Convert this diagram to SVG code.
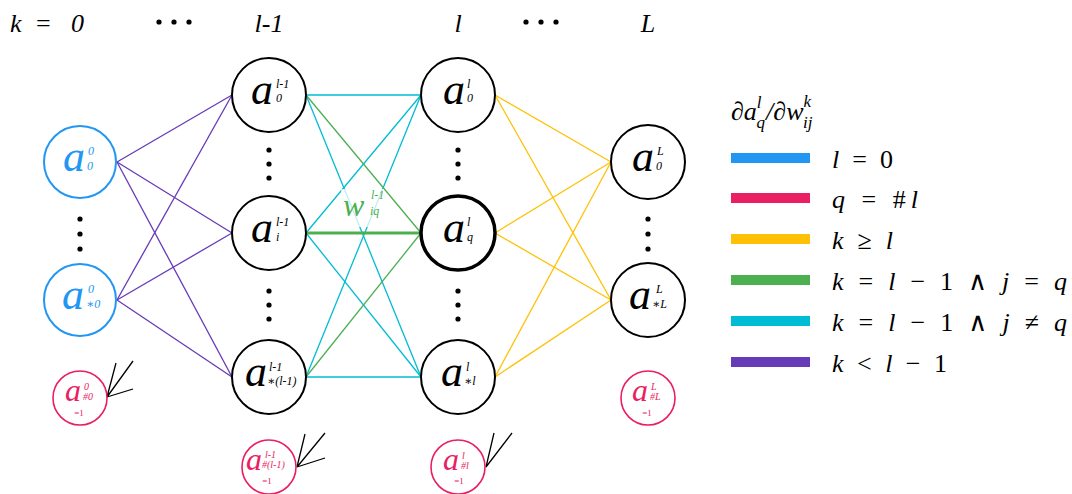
<svg xmlns="http://www.w3.org/2000/svg" width="1072" height="494" viewBox="0 0 1072 494" font-family="'Liberation Serif', Tinos, 'Times New Roman', 'DejaVu Serif', 'Noto Serif', serif">
<style>
text{font-family:"Liberation Serif",Tinos,"Times New Roman","DejaVu Serif","Noto Serif",serif;}
.it{font-style:italic;}
.big{font-size:44px;font-style:italic;}
.sm{font-size:12px;font-style:italic;}
.bb{font-size:32px;font-style:italic;fill:#E91E63;}
.bs{font-size:10px;font-style:italic;fill:#E91E63;}
.be{font-size:9px;fill:#E91E63;}
.node{fill:#fff;stroke:#000;stroke-width:2;}
.inp{fill:#fff;stroke:#2196F3;stroke-width:2;}
.bias{fill:#fff;stroke:#E91E63;stroke-width:1.6;}
.blue{fill:#2196F3;}
.pu{stroke:#673AB7;stroke-width:1.3;fill:none;}
.cy{stroke:#00BCD4;stroke-width:1.3;fill:none;}
.gr{stroke:#4CAF50;stroke-width:1.3;fill:none;}
.ye{stroke:#FFC107;stroke-width:1.3;fill:none;}
.ar{stroke:#000;stroke-width:1.3;fill:none;}
.hdr{font-size:26px;}
.lg{font-size:26px;}
.ls{font-size:17px;font-style:italic;}
</style>
<rect width="1072" height="494" fill="#fff"/>

<g id="headers">
<text class="hdr" y="32"><tspan class="it" x="10">k</tspan><tspan x="36">=</tspan><tspan class="it" x="71">0</tspan></text>
<circle cx="159" cy="22" r="2.6"/><circle cx="174" cy="22" r="2.6"/><circle cx="189" cy="22" r="2.6"/>
<text class="hdr it" x="269" y="32" text-anchor="middle">l-1</text>
<text class="hdr it" x="458" y="32" text-anchor="middle">l</text>
<circle cx="526" cy="22" r="2.6"/><circle cx="541" cy="22" r="2.6"/><circle cx="556" cy="22" r="2.6"/>
<text class="hdr it" x="648" y="32" text-anchor="middle">L</text>
</g>

<g id="connectors">
<line class="pu" x1="117" y1="162" x2="232" y2="95"/>
<line class="pu" x1="117" y1="162" x2="232" y2="233"/>
<line class="pu" x1="117" y1="162" x2="232" y2="377"/>
<line class="pu" x1="117" y1="300" x2="232" y2="95"/>
<line class="pu" x1="117" y1="300" x2="232" y2="233"/>
<line class="pu" x1="117" y1="300" x2="232" y2="377"/>
<line class="cy" x1="306" y1="95" x2="421" y2="95"/>
<line class="cy" x1="306" y1="95" x2="421" y2="377"/>
<line class="cy" x1="306" y1="233" x2="421" y2="95"/>
<line class="cy" x1="306" y1="233" x2="421" y2="377"/>
<line class="cy" x1="306" y1="377" x2="421" y2="95"/>
<line class="cy" x1="306" y1="377" x2="421" y2="377"/>
<line class="gr" x1="306" y1="95" x2="421" y2="233"/>
<line class="gr" x1="306" y1="377" x2="421" y2="233"/>
<line class="gr" x1="306" y1="233" x2="421" y2="233" style="stroke-width:3"/>
<line class="ye" x1="495" y1="95" x2="611" y2="162"/>
<line class="ye" x1="495" y1="95" x2="611" y2="300"/>
<line class="ye" x1="495" y1="233" x2="611" y2="162"/>
<line class="ye" x1="495" y1="233" x2="611" y2="300"/>
<line class="ye" x1="495" y1="377" x2="611" y2="162"/>
<line class="ye" x1="495" y1="377" x2="611" y2="300"/>
<path class="ar" d="M116,363 L107,397 L133,361 M107,397 L133,389"/>
<path class="ar" d="M305,434 L297,467 L325,433 M297,467 L325,458"/>
<path class="ar" d="M494,433 L486,467 L512,433"/>
</g>

<g id="weight-label">
<rect x="341" y="189" width="43" height="38" fill="#fff" fill-opacity="0.75"/>
<text class="it" x="343" y="216" style="font-size:32px;fill:#4CAF50">w</text>
<text class="sm" x="371" y="199" style="fill:#4CAF50">l-1</text>
<text class="sm" x="370" y="215" style="fill:#4CAF50">iq</text>
</g>

<g id="n0_0"><circle class="inp" cx="80" cy="162" r="36"/>
<text class="big blue" x="63" y="171">a</text><text class="sm blue" x="88" y="155">0</text><text class="sm blue" x="87" y="170">0</text></g>
<g id="n0_dots"><circle cx="80" cy="219" r="2.6"/><circle cx="80" cy="234" r="2.6"/><circle cx="80" cy="249" r="2.6"/></g>
<g id="n0_s"><circle class="inp" cx="80" cy="300" r="36"/>
<text class="big blue" x="62" y="309">a</text><text class="sm blue" x="88" y="293">0</text><text class="sm blue" x="86" y="308">∗0</text></g>
<g id="b0"><circle class="bias" cx="80" cy="398" r="27"/>
<text class="bb" x="65" y="401">a</text><text class="bs" x="84" y="390">0</text><text class="bs" x="83" y="400">#0</text><text class="be" x="79" y="416" text-anchor="middle">=1</text></g>

<g id="nl1_0"><circle class="node" cx="269" cy="95" r="37"/>
<text class="big" x="251" y="104">a</text><text class="sm" x="276" y="88">l-1</text><text class="sm" x="276" y="102">0</text></g>
<g id="nl1_dots1"><circle cx="269" cy="150" r="2.6"/><circle cx="269" cy="164" r="2.6"/><circle cx="269" cy="178" r="2.6"/></g>
<g id="nl1_i"><circle class="node" cx="269" cy="233" r="37"/>
<text class="big" x="251" y="242">a</text><text class="sm" x="276" y="226">l-1</text><text class="sm" x="276" y="241">i</text></g>
<g id="nl1_dots2"><circle cx="269" cy="291" r="2.6"/><circle cx="269" cy="305" r="2.6"/><circle cx="269" cy="319" r="2.6"/></g>
<g id="nl1_s"><circle class="node" cx="269" cy="377" r="37"/>
<text class="big" x="245" y="386">a</text><text class="sm" x="269" y="371">l-1</text><text class="sm" x="267" y="385">∗(l-1)</text></g>
<g id="bl1"><circle class="bias" cx="269" cy="467" r="27"/>
<text class="bb" x="246" y="470">a</text><text class="bs" x="265" y="458">l-1</text><text class="bs" x="262" y="468">#(l-1)</text><text class="be" x="267" y="484" text-anchor="middle">=1</text></g>

<g id="nl_0"><circle class="node" cx="458" cy="95" r="37"/>
<text class="big" x="443" y="104">a</text><text class="sm" x="467" y="88">l</text><text class="sm" x="467" y="102">0</text></g>
<g id="nl_dots1"><circle cx="458" cy="150" r="2.6"/><circle cx="458" cy="164" r="2.6"/><circle cx="458" cy="178" r="2.6"/></g>
<g id="nl_q"><circle class="node" cx="458" cy="233" r="37" style="stroke-width:3.5"/>
<text class="big" x="443" y="242">a</text><text class="sm" x="467" y="226">l</text><text class="sm" x="467" y="241">q</text></g>
<g id="nl_dots2"><circle cx="458" cy="291" r="2.6"/><circle cx="458" cy="305" r="2.6"/><circle cx="458" cy="319" r="2.6"/></g>
<g id="nl_s"><circle class="node" cx="458" cy="377" r="37"/>
<text class="big" x="441" y="386">a</text><text class="sm" x="466" y="371">l</text><text class="sm" x="464" y="385">∗l</text></g>
<g id="bl"><circle class="bias" cx="458" cy="467" r="27"/>
<text class="bb" x="443" y="470">a</text><text class="bs" x="462" y="459">l</text><text class="bs" x="461" y="469">#l</text><text class="be" x="459" y="484" text-anchor="middle">=1</text></g>

<g id="nL_0"><circle class="node" cx="648" cy="162" r="37"/>
<text class="big" x="632" y="171">a</text><text class="sm" x="657" y="155">L</text><text class="sm" x="656" y="170">0</text></g>
<g id="nL_dots"><circle cx="648" cy="219" r="2.6"/><circle cx="648" cy="234" r="2.6"/><circle cx="648" cy="249" r="2.6"/></g>
<g id="nL_s"><circle class="node" cx="648" cy="300" r="37"/>
<text class="big" x="629" y="309">a</text><text class="sm" x="656" y="293">L</text><text class="sm" x="652" y="308">∗L</text></g>
<g id="bL"><circle class="bias" cx="648" cy="398" r="27"/>
<text class="bb" x="632" y="401">a</text><text class="bs" x="651" y="390">L</text><text class="bs" x="650" y="400">#L</text><text class="be" x="647" y="416" text-anchor="middle">=1</text></g>

<g id="legend">
<text class="lg" x="731" y="120"><tspan class="it">∂a</tspan><tspan class="ls" dy="-12">l</tspan><tspan class="ls" dx="-5" dy="20">q</tspan><tspan class="it" dx="1" dy="-8">/∂w</tspan><tspan class="ls" dy="-13">k</tspan><tspan class="ls" dx="-8" dy="21">ij</tspan></text>

<rect x="731" y="153" width="79" height="10" fill="#2196F3"/>
<rect x="731" y="193" width="79" height="10" fill="#E91E63"/>
<rect x="731" y="234" width="79" height="10" fill="#FFC107"/>
<rect x="731" y="275" width="79" height="10" fill="#4CAF50"/>
<rect x="731" y="316" width="79" height="10" fill="#00BCD4"/>
<rect x="731" y="357" width="79" height="10" fill="#673AB7"/>

<text class="lg" x="832" y="168" textLength="61" lengthAdjust="spacing"><tspan class="it">l</tspan> = 0</text>
<text class="lg" x="832" y="208" textLength="86" lengthAdjust="spacing"><tspan class="it">q</tspan> = #<tspan class="it">l</tspan></text>
<text class="lg" x="832" y="249" textLength="61" lengthAdjust="spacing"><tspan class="it">k</tspan> ≥ <tspan class="it">l</tspan></text>
<text class="lg" x="832" y="290" textLength="235" lengthAdjust="spacing"><tspan class="it">k</tspan> = <tspan class="it">l</tspan> − 1  ∧  <tspan class="it">j</tspan> = <tspan class="it">q</tspan></text>
<text class="lg" x="832" y="331" textLength="235" lengthAdjust="spacing"><tspan class="it">k</tspan> = <tspan class="it">l</tspan> − 1  ∧  <tspan class="it">j</tspan> ≠ <tspan class="it">q</tspan></text>
<text class="lg" x="832" y="372" textLength="115" lengthAdjust="spacing"><tspan class="it">k</tspan> &lt; <tspan class="it">l</tspan> − 1</text>
</g>
</svg>
